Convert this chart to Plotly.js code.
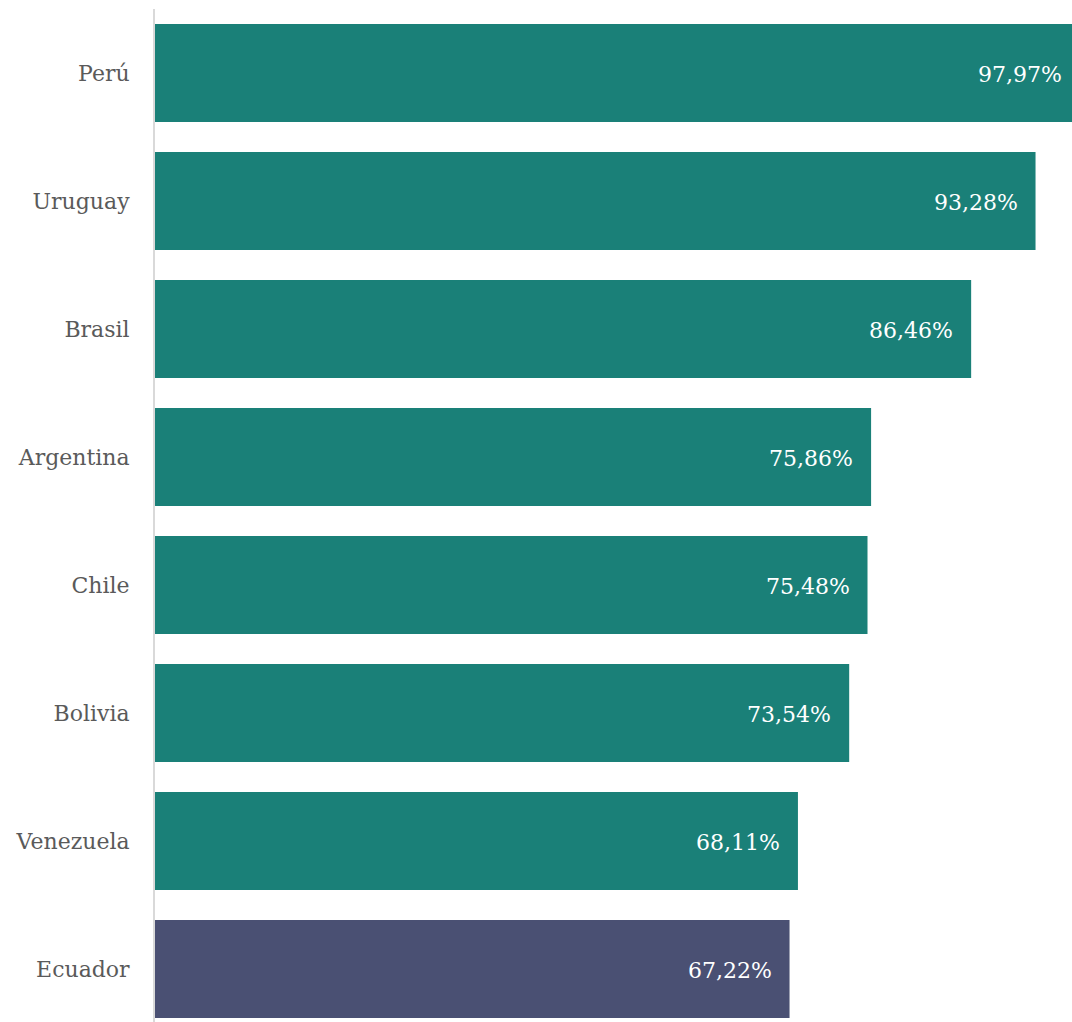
<!DOCTYPE html>
<html><head><meta charset="utf-8">
<script src="https://cdn.plot.ly/plotly-3.0.1.min.js"></script>
<style>html,body{margin:0;padding:0;overflow:hidden;background:#fff;}</style>
</head><body>
<div id="chart"></div>
<script>
const countries = ["Ecuador","Venezuela","Bolivia","Chile","Argentina","Brasil","Uruguay","Perú"];
const values = [67.22, 68.11, 73.54, 75.48, 75.86, 86.46, 93.28, 97.97];
const barColors = ["#4a5073","#1a8078","#1a8078","#1a8078","#1a8078","#1a8078","#1a8078","#1a8078"];

const fmt = v => v.toFixed(2).replace('.', ',') + '%';

const trace = {
  type: 'bar', orientation: 'h',
  y: countries, x: values,
  marker: {color: barColors},
  hoverinfo: 'none'
};

const annotations = values.map((v, i) => ({
  x: v, y: countries[i], xref: 'x', yref: 'y',
  text: fmt(v), showarrow: false, xanchor: 'right', xshift: -16, yshift: -1,
  font: {family: 'DejaVu Serif', size: 22, color: '#ffffff'}
}));

const layout = {
  width: 1090, height: 1022,
  margin: {l: 155, r: 0, t: 9, b: 0},
  paper_bgcolor: '#ffffff', plot_bgcolor: '#ffffff',
  bargap: 0.234,
  showlegend: false,
  xaxis: {range: [0, 99.05], visible: false, fixedrange: true},
  yaxis: {
    type: 'category', range: [-0.414, 7.5],
    showline: true, linecolor: '#d9d9d9', linewidth: 2,
    showgrid: false, zeroline: false, ticks: '',
    ticklabelstandoff: 19,
    tickfont: {family: 'DejaVu Serif', size: 22, color: '#5a5a5a'}
  },
  annotations: annotations
};

Plotly.newPlot('chart', [trace], layout, {displayModeBar: false, staticPlot: true});
</script>
</body></html>
